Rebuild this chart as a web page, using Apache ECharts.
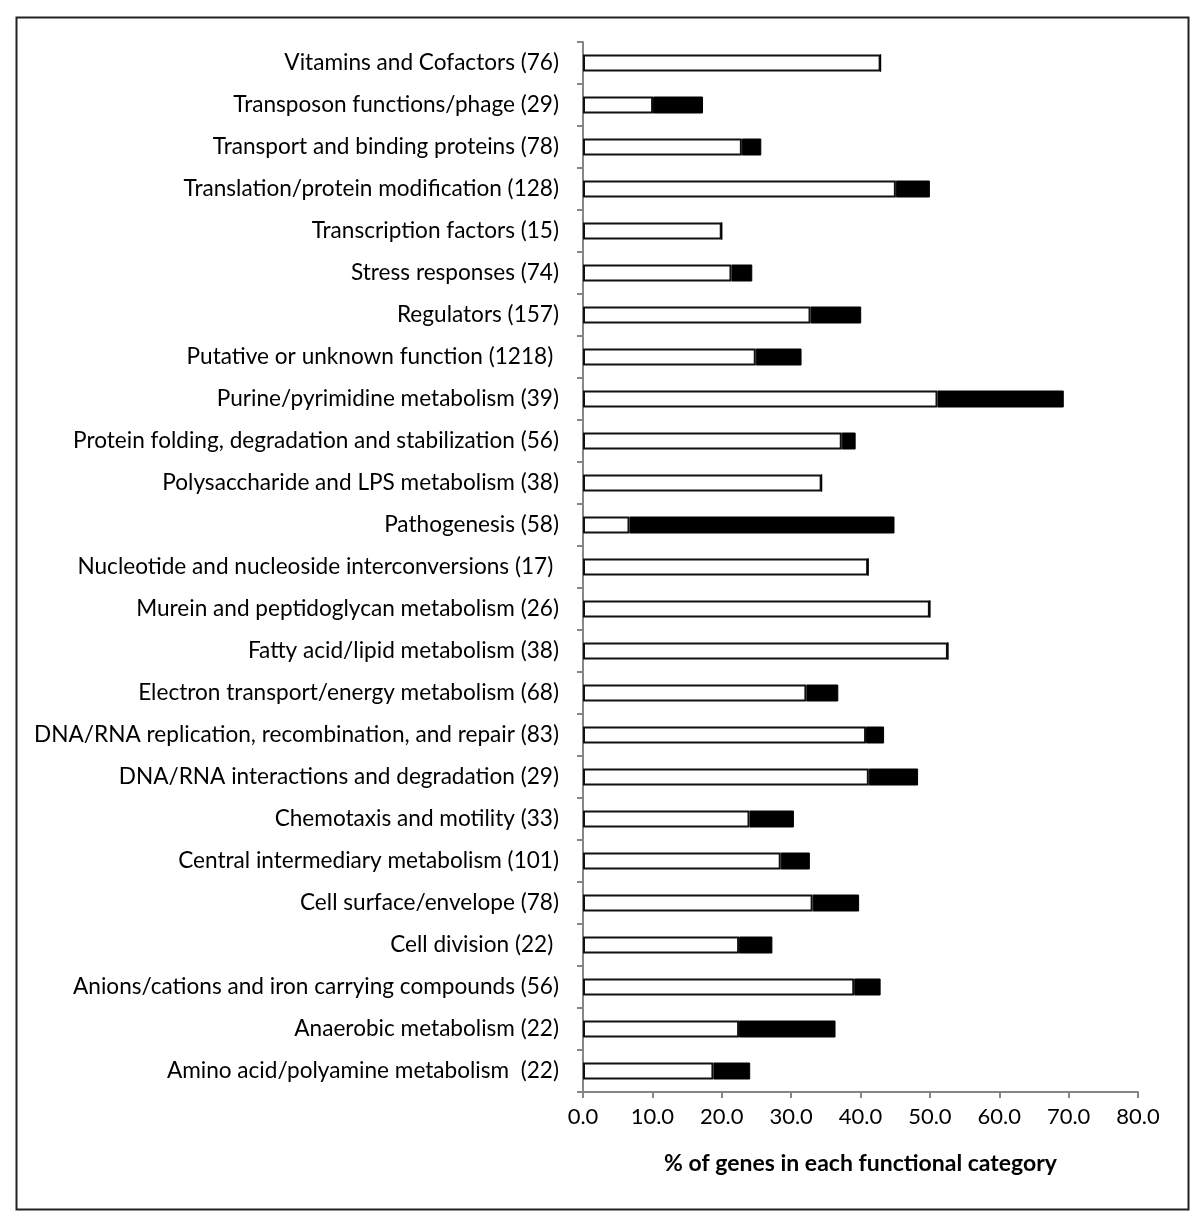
<!DOCTYPE html>
<html>
<head>
<meta charset="utf-8">
<script src="https://cdn.jsdelivr.net/npm/echarts@6/dist/echarts.min.js"></script>
<style>html,body{margin:0;padding:0;background:#fff}#c{width:1200px;height:1221px}</style>
</head>
<body>
<div id="c"></div>
<script>
const categories = [
  "Vitamins and Cofactors (76)",
  "Transposon functions/phage (29)",
  "Transport and binding proteins (78)",
  "Translation/protein modification (128)",
  "Transcription factors (15)",
  "Stress responses (74)",
  "Regulators (157)",
  "Putative or unknown function (1218) ",
  "Purine/pyrimidine metabolism (39)",
  "Protein folding, degradation and stabilization (56)",
  "Polysaccharide and LPS metabolism (38)",
  "Pathogenesis (58)",
  "Nucleotide and nucleoside interconversions (17) ",
  "Murein and peptidoglycan metabolism (26)",
  "Fatty acid/lipid metabolism (38)",
  "Electron transport/energy metabolism (68)",
  "DNA/RNA replication, recombination, and repair (83)",
  "DNA/RNA interactions and degradation (29)",
  "Chemotaxis and motility (33)",
  "Central intermediary metabolism (101)",
  "Cell surface/envelope (78)",
  "Cell division (22) ",
  "Anions/cations and iron carrying compounds (56)",
  "Anaerobic metabolism (22)",
  "Amino acid/polyamine metabolism  (22)"
];
const whiteValues = [42.9, 10.1, 22.9, 45.1, 20.0, 21.4, 32.8, 24.9, 51.1, 37.3, 34.4, 6.7, 41.1, 50.0, 52.6, 32.2, 40.8, 41.2, 24.0, 28.5, 33.1, 22.5, 39.1, 22.5, 18.8];
const blackValues = [0, 7.2, 2.8, 4.9, 0, 3.0, 7.3, 6.6, 18.2, 2.0, 0, 38.2, 0, 0, 0, 4.6, 2.6, 7.1, 6.4, 4.2, 6.7, 4.8, 3.8, 13.9, 5.3];
const xTicks = [0, 10, 20, 30, 40, 50, 60, 70, 80];

const chart = echarts.init(document.getElementById('c'));
const font = 'Lato, "Open Sans", sans-serif';
chart.setOption({
  animation: false,
  backgroundColor: '#fff',
  graphic: [{
    type: 'rect', left: 14, top: 15,
    shape: { width: 1172, height: 1192 },
    style: { fill: 'none', stroke: '#222', lineWidth: 2 }
  }],
  grid: { left: 583, right: 62, top: 42, bottom: 129, containLabel: false },
  xAxis: {
    type: 'value', min: xTicks[0], max: xTicks[xTicks.length - 1], interval: 10,
    name: '% of genes in each functional category',
    nameLocation: 'middle', nameGap: 60,
    nameTextStyle: { fontFamily: font, fontSize: 23, fontWeight: 'bold', color: '#000' },
    axisLine: { show: true, lineStyle: { color: '#868686', width: 2 } },
    axisTick: { show: true, length: 6, lineStyle: { color: '#868686', width: 2 } },
    axisLabel: { fontFamily: font, fontSize: 22, color: '#000', margin: 14,
      formatter: v => v.toFixed(1) },
    splitLine: { show: false }
  },
  yAxis: {
    type: 'category', data: categories, inverse: true,
    axisLine: { show: true, lineStyle: { color: '#868686', width: 2 } },
    axisTick: { show: true, length: 6, lineStyle: { color: '#868686', width: 2 } },
    axisLabel: { fontFamily: font, fontSize: 22.6, color: '#000', margin: 24 }
  },
  series: [
    { type: 'bar', stack: 's', data: whiteValues, barWidth: 17,
      itemStyle: { color: '#fff', borderColor: '#111', borderWidth: 2 } },
    { type: 'bar', stack: 's', data: blackValues, barWidth: 17,
      itemStyle: { color: '#000', borderColor: '#000', borderWidth: 1 } }
  ]
});
</script>
</body>
</html>
